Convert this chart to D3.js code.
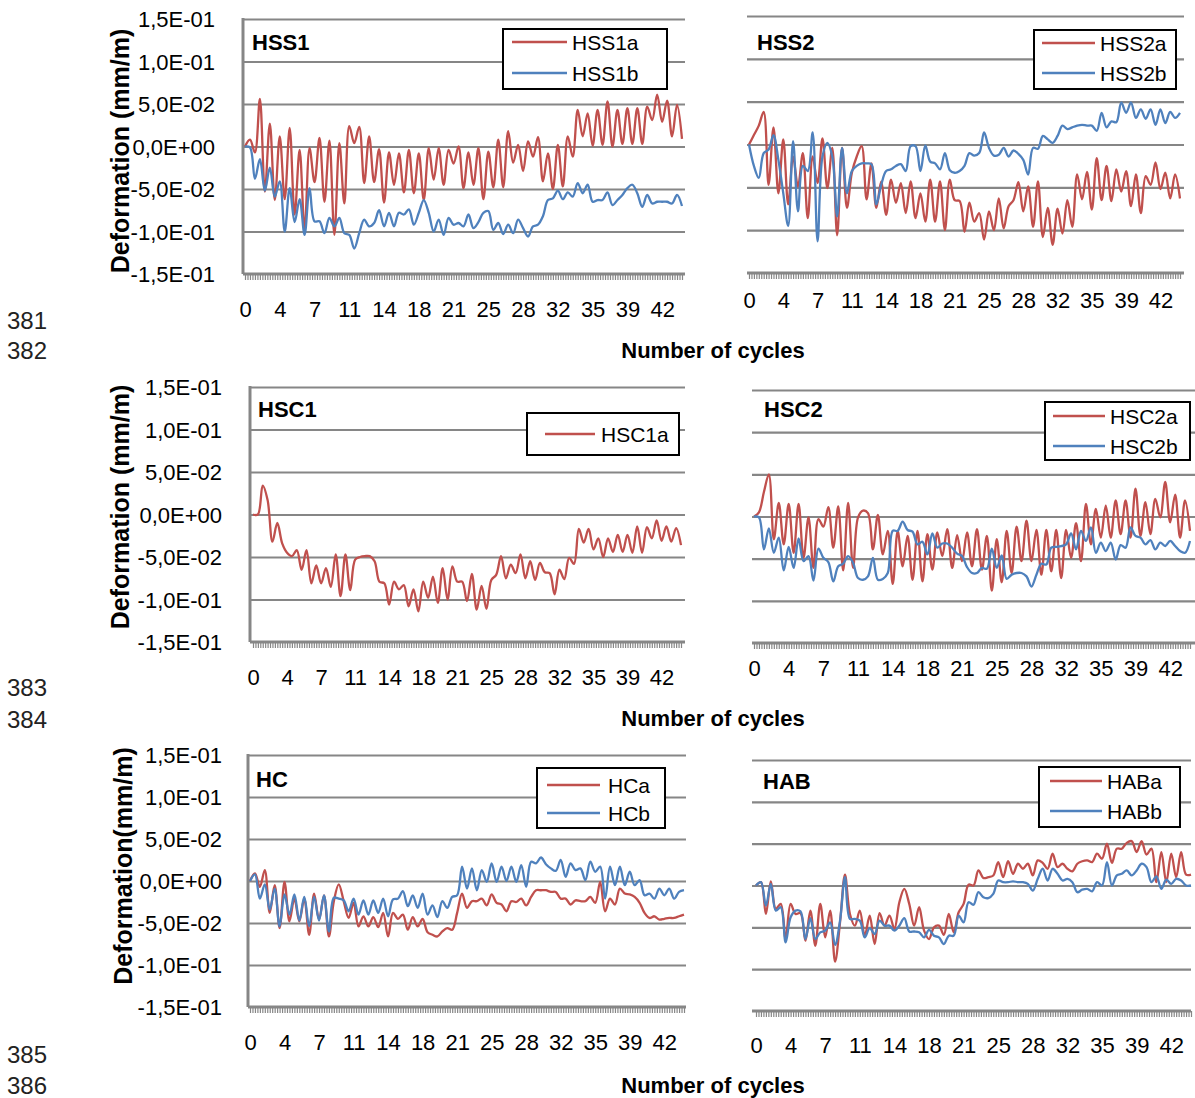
<!DOCTYPE html>
<html><head><meta charset="utf-8">
<script src="https://cdn.jsdelivr.net/npm/d3@7"></script>
<style>body{margin:0;background:#fff}svg{display:block}</style>
</head><body>
<svg id="c" width="1195" height="1098"></svg>
<script>
// ---------- data ----------
const cycleStep = 0.5;              // cycles between consecutive readings
const yTickValues = [-0.15,-0.1,-0.05,0,0.05,0.1,0.15];
const yTickLabels = ["-1,5E-01","-1,0E-01","-5,0E-02","0,0E+00","5,0E-02","1,0E-01","1,5E-01"];
const xTickValues = [0,3.5,7,10.5,14,17.5,21,24.5,28,31.5,35,38.5,42];
const xTickLabels = ["0","4","7","11","14","18","21","25","28","32","35","39","42"];
const lineNumbers = ["381","382","383","384","385","386"];
const axisTitleX = "Number of cycles";

const HSS1a = [0,0.008,-0.007,0.056,-0.053,0.027,-0.063,0.012,-0.062,0.022,
 -0.080,-0.004,-0.098,-0.002,-0.042,0.010,-0.065,0.007,-0.104,0.004,
 -0.067,0.024,0.004,0.023,-0.043,0.012,-0.042,-0.003,-0.066,-0.007,
 -0.045,-0.008,-0.054,-0.004,-0.055,-0.008,-0.063,-0.002,-0.039,-0.002,
 -0.045,-0.004,-0.020,0.000,-0.049,-0.007,-0.045,-0.002,-0.062,-0.006,
 -0.048,0.008,-0.048,0.018,-0.019,0.002,-0.029,0.006,-0.012,0.011,
 -0.041,-0.008,-0.050,0.002,-0.047,0.012,-0.012,0.043,0.012,0.039,
 0.001,0.043,0.002,0.053,0.000,0.043,0.003,0.045,0.003,0.045,
 0.003,0.047,0.031,0.061,0.029,0.054,0.012,0.049,0.009];
const HSS1b = [0,-0.001,-0.038,-0.015,-0.052,-0.025,-0.059,-0.041,-0.100,-0.049,
 -0.089,-0.062,-0.104,-0.049,-0.088,-0.088,-0.102,-0.084,-0.094,-0.084,
 -0.102,-0.104,-0.120,-0.102,-0.086,-0.094,-0.090,-0.075,-0.094,-0.078,
 -0.094,-0.078,-0.080,-0.074,-0.092,-0.078,-0.063,-0.078,-0.100,-0.086,
 -0.104,-0.084,-0.092,-0.090,-0.094,-0.080,-0.096,-0.089,-0.078,-0.076,
 -0.098,-0.090,-0.103,-0.092,-0.102,-0.086,-0.096,-0.106,-0.094,-0.092,
 -0.082,-0.063,-0.061,-0.052,-0.062,-0.054,-0.059,-0.043,-0.055,-0.045,
 -0.065,-0.063,-0.063,-0.054,-0.069,-0.063,-0.057,-0.049,-0.045,-0.055,
 -0.071,-0.057,-0.067,-0.065,-0.065,-0.065,-0.067,-0.057,-0.070];
const HSS2a = [0,0.011,0.022,0.038,-0.047,0.020,-0.057,0.006,-0.070,-0.014,
 -0.049,-0.010,-0.086,-0.014,-0.045,0.007,-0.051,-0.004,-0.106,-0.004,
 -0.074,-0.033,-0.014,-0.002,-0.064,-0.022,-0.074,-0.043,-0.082,-0.041,
 -0.068,-0.045,-0.080,-0.043,-0.086,-0.057,-0.090,-0.041,-0.090,-0.043,
 -0.100,-0.041,-0.065,-0.066,-0.102,-0.068,-0.090,-0.080,-0.111,-0.078,
 -0.100,-0.063,-0.098,-0.072,-0.065,-0.044,-0.078,-0.049,-0.096,-0.043,
 -0.108,-0.074,-0.117,-0.075,-0.104,-0.065,-0.096,-0.035,-0.064,-0.032,
 -0.076,-0.016,-0.065,-0.025,-0.066,-0.029,-0.055,-0.031,-0.072,-0.035,
 -0.080,-0.037,-0.047,-0.021,-0.052,-0.033,-0.063,-0.035,-0.063];
const HSS2b = [0,-0.025,-0.039,-0.010,-0.006,0.011,-0.018,-0.057,-0.095,0.004,
 -0.078,-0.025,-0.031,0.014,-0.113,-0.014,0.002,-0.014,-0.084,-0.004,
 -0.057,-0.031,-0.025,-0.022,-0.022,-0.023,-0.070,-0.047,-0.031,-0.029,
 -0.025,-0.023,-0.031,-0.002,-0.002,-0.031,-0.001,-0.020,-0.022,-0.029,
 -0.010,-0.030,-0.033,-0.031,-0.025,-0.010,-0.013,-0.010,0.014,-0.004,
 -0.013,-0.012,-0.004,-0.014,-0.007,-0.011,-0.018,-0.035,-0.004,-0.005,
 0.010,0.006,0.002,0.010,0.022,0.018,0.020,0.022,0.023,0.022,
 0.022,0.016,0.037,0.020,0.027,0.026,0.049,0.037,0.049,0.031,
 0.041,0.030,0.041,0.023,0.041,0.025,0.038,0.031,0.037];
const HSC1a = [0,0,0.034,0.017,-0.032,-0.010,-0.034,-0.045,-0.049,-0.042,
 -0.065,-0.042,-0.081,-0.060,-0.081,-0.063,-0.085,-0.047,-0.096,-0.047,
 -0.089,-0.053,-0.050,-0.049,-0.049,-0.055,-0.079,-0.081,-0.106,-0.079,
 -0.088,-0.083,-0.108,-0.088,-0.114,-0.079,-0.098,-0.073,-0.104,-0.063,
 -0.100,-0.061,-0.079,-0.079,-0.102,-0.070,-0.112,-0.084,-0.111,-0.077,
 -0.071,-0.049,-0.075,-0.059,-0.069,-0.047,-0.075,-0.055,-0.077,-0.057,
 -0.068,-0.069,-0.094,-0.065,-0.076,-0.051,-0.058,-0.017,-0.033,-0.017,
 -0.041,-0.028,-0.050,-0.028,-0.044,-0.024,-0.044,-0.024,-0.045,-0.014,
 -0.045,-0.015,-0.028,-0.007,-0.031,-0.014,-0.032,-0.016,-0.036];
const HSC2a = [0,0.005,0.029,0.050,-0.027,0.016,-0.033,0.015,-0.043,0.015,
 -0.049,-0.001,-0.061,-0.003,-0.012,0.011,-0.037,0.012,-0.064,0.016,
 -0.061,-0.001,0.007,0.004,-0.039,0.002,-0.045,-0.017,-0.080,-0.017,
 -0.059,-0.023,-0.075,-0.017,-0.077,-0.021,-0.063,-0.019,-0.047,-0.015,
 -0.061,-0.022,-0.053,-0.019,-0.059,-0.015,-0.063,-0.023,-0.088,-0.027,
 -0.078,-0.017,-0.067,-0.012,-0.053,-0.005,-0.053,-0.016,-0.069,-0.016,
 -0.065,-0.016,-0.073,-0.016,-0.049,-0.008,-0.053,0.015,-0.033,0.009,
 -0.025,0.013,-0.025,0.019,-0.021,0.019,-0.025,0.033,-0.023,0.017,
 -0.021,0.021,-0.001,0.041,-0.007,0.026,-0.025,0.019,-0.017];
const HSC2b = [0,-0.001,-0.039,-0.014,-0.043,-0.025,-0.064,-0.036,-0.061,-0.026,
 -0.053,-0.047,-0.076,-0.038,-0.049,-0.054,-0.077,-0.059,-0.056,-0.047,
 -0.055,-0.073,-0.075,-0.071,-0.049,-0.075,-0.074,-0.067,-0.017,-0.017,
 -0.006,-0.016,-0.018,-0.033,-0.030,-0.045,-0.020,-0.037,-0.032,-0.032,
 -0.037,-0.044,-0.047,-0.060,-0.067,-0.067,-0.061,-0.062,-0.038,-0.061,
 -0.046,-0.074,-0.069,-0.067,-0.067,-0.071,-0.083,-0.069,-0.056,-0.057,
 -0.037,-0.036,-0.035,-0.033,-0.020,-0.039,-0.017,-0.029,-0.013,-0.043,
 -0.031,-0.041,-0.031,-0.051,-0.034,-0.037,-0.013,-0.023,-0.025,-0.033,
 -0.028,-0.039,-0.031,-0.035,-0.029,-0.035,-0.041,-0.043,-0.029];
const HCa = [0,0.009,-0.007,0.013,-0.038,-0.005,-0.056,-0.001,-0.048,-0.021,
 -0.048,-0.021,-0.064,-0.015,-0.046,-0.017,-0.066,-0.024,-0.004,-0.024,
 -0.044,-0.026,-0.054,-0.042,-0.054,-0.043,-0.055,-0.038,-0.066,-0.038,
 -0.045,-0.040,-0.058,-0.043,-0.054,-0.045,-0.061,-0.064,-0.066,-0.060,
 -0.056,-0.058,-0.038,-0.015,-0.032,-0.024,-0.024,-0.021,-0.029,-0.016,
 -0.026,-0.028,-0.036,-0.024,-0.025,-0.021,-0.029,-0.019,-0.011,-0.011,
 -0.011,-0.013,-0.013,-0.021,-0.021,-0.028,-0.023,-0.024,-0.024,-0.019,
 -0.026,-0.001,-0.036,-0.021,-0.028,-0.009,-0.015,-0.016,-0.019,-0.026,
 -0.038,-0.044,-0.042,-0.046,-0.045,-0.044,-0.044,-0.042,-0.040];
const HCb = [0,0.008,-0.021,-0.004,-0.034,-0.009,-0.054,-0.016,-0.040,-0.016,
 -0.047,-0.019,-0.054,-0.019,-0.047,-0.017,-0.060,-0.020,-0.021,-0.023,
 -0.036,-0.021,-0.040,-0.023,-0.040,-0.023,-0.038,-0.021,-0.042,-0.022,
 -0.021,-0.012,-0.030,-0.017,-0.032,-0.015,-0.040,-0.029,-0.043,-0.024,
 -0.032,-0.019,-0.017,0.017,-0.009,0.015,-0.011,0.013,-0.001,0.021,
 -0.001,0.017,0,0.017,-0.001,0.019,-0.007,0.023,0.021,0.028,
 0.020,0.015,0.012,0.025,0.005,0.021,0.013,0.015,0.001,0.023,
 0.011,0.017,-0.021,0.017,-0.005,0.017,-0.005,0.011,-0.005,0.001,
 -0.017,-0.015,-0.021,-0.009,-0.017,-0.009,-0.021,-0.013,-0.011];
const HABa = [0,0.004,-0.034,0.005,-0.028,-0.022,-0.064,-0.022,-0.034,-0.033,
 -0.066,-0.030,-0.072,-0.022,-0.062,-0.030,-0.091,-0.044,0.013,-0.034,
 -0.048,-0.030,-0.060,-0.036,-0.070,-0.033,-0.048,-0.036,-0.052,-0.020,
 -0.004,-0.022,-0.048,-0.026,-0.054,-0.064,-0.050,-0.048,-0.059,-0.034,
 -0.056,-0.032,-0.022,0.001,0,0.018,0.009,0.010,0.012,0.028,
 0.010,0.029,0.014,0.026,0.020,0.026,0.012,0.030,0.027,0.020,
 0.038,0.022,0.026,0.020,0.017,0.026,0.029,0.030,0.028,0.038,
 0.032,0.050,0.027,0.044,0.044,0.051,0.053,0.040,0.053,0.037,
 0.044,0.004,0.040,0.004,0.038,0.010,0.040,0.013,0.013];
const HABb = [0,0.004,-0.024,0.002,-0.030,-0.026,-0.068,-0.038,-0.030,-0.031,
 -0.064,-0.039,-0.064,-0.056,-0.054,-0.044,-0.071,-0.042,0.010,-0.040,
 -0.040,-0.042,-0.062,-0.051,-0.058,-0.042,-0.048,-0.048,-0.054,-0.048,
 -0.039,-0.055,-0.055,-0.056,-0.062,-0.053,-0.060,-0.062,-0.070,-0.060,
 -0.060,-0.036,-0.044,-0.020,-0.023,-0.008,-0.014,-0.015,-0.010,0.006,
 0.004,0.004,0.005,0.004,0.004,0.002,-0.006,0.008,0.020,0.006,
 0.020,0.014,0.006,0.008,0.004,-0.008,-0.005,-0.004,-0.007,0.004,
 0,0.028,0,0.012,0.014,0.018,0.012,0.018,0.026,0.022,
 0.004,0.011,-0.004,0.007,0.002,0.008,0.006,0,0];

// ---------- style / layout ----------
const RED = "#C0504D", BLUE = "#4F81BD", GRID = "#868686";
const FONT = "'Liberation Sans', Arial, sans-serif";

const panels = [
 {title:"HSS1", series:[["HSS1a",HSS1a,RED],["HSS1b",HSS1b,BLUE]],
  x0:245,x1:682,gl:243,gr:685,yt:19,yb:274,yAxis:true,ylabX:215,ytitle:"Deformation (mm/m)",ytX:129,ytY:151,
  xlabY:309,tX:252,tY:50,leg:{x:503,y:29,w:164,h:60,lx:512,ll:55,tx:572,rows:[42,73]}},
 {title:"HSS2", series:[["HSS2a",HSS2a,RED],["HSS2b",HSS2b,BLUE]],
  x0:749,x1:1180,gl:747,gr:1184,yt:16,yb:273,yAxis:false,
  xlabY:300,tX:757,tY:50,leg:{x:1034,y:30,w:142,h:59,lx:1042,ll:53,tx:1100,rows:[43,73]}},
 {title:"HSC1", series:[["HSC1a",HSC1a,RED]],
  x0:253,x1:681,gl:250,gr:685,yt:387,yb:642,yAxis:true,ylabX:222,ytitle:"Deformation (mm/m)",ytX:129,ytY:507,
  xlabY:677,tX:258,tY:417,leg:{x:527,y:413,w:152,h:42,lx:545,ll:50,tx:601,rows:[434]}},
 {title:"HSC2", series:[["HSC2a",HSC2a,RED],["HSC2b",HSC2b,BLUE]],
  x0:754,x1:1190,gl:752,gr:1195,yt:390,yb:643,yAxis:false,
  xlabY:668,tX:764,tY:417,leg:{x:1045,y:402,w:145,h:58,lx:1053,ll:52,tx:1110,rows:[416,446]}},
 {title:"HC", series:[["HCa",HCa,RED],["HCb",HCb,BLUE]],
  x0:250,x1:684,gl:248,gr:686,yt:755,yb:1007,yAxis:true,ylabX:222,ytitle:"Deformation(mm/m)",ytX:132,ytY:866,
  xlabY:1042,tX:256,tY:787,leg:{x:537,y:768,w:128,h:60,lx:547,ll:53,tx:608,rows:[785,813]}},
 {title:"HAB", series:[["HABa",HABa,RED],["HABb",HABb,BLUE]],
  x0:756,x1:1191,gl:752,gr:1191,yt:760,yb:1011,yAxis:false,
  xlabY:1045,tX:763,tY:789,leg:{x:1039,y:767,w:141,h:60,lx:1050,ll:52,tx:1107,rows:[781,811]}}
];
const rowNumbers = [[320,350],[687,719],[1054,1085]];
const rowAxisTitleY = [350,718,1085];

// ---------- drawing ----------
const svg = d3.select("#c");
svg.append("rect").attr("width",1195).attr("height",1098).attr("fill","#fff");
const minorTicks = d3.range(0, 44.001, 0.25);

panels.forEach(p => {
  const x = d3.scaleLinear().domain([0,44]).range([p.x0,p.x1]);
  const y = d3.scaleLinear().domain([-0.15,0.15]).range([p.yb,p.yt]);
  const g = svg.append("g");

  // gridlines
  const grid = g.append("g").attr("transform",`translate(${p.gl},0)`)
    .call(d3.axisLeft(y).tickValues(yTickValues.slice(1)).tickSize(-(p.gr-p.gl)).tickFormat(""));
  grid.select(".domain").remove();
  grid.selectAll(".tick line").attr("stroke",GRID).attr("stroke-width",2.2);

  // y labels
  if (p.yAxis) {
    const ya = g.append("g").attr("transform",`translate(${p.ylabX},0)`)
      .call(d3.axisLeft(y).tickValues(yTickValues).tickSize(0).tickPadding(0)
        .tickFormat((d,i)=>yTickLabels[i]));
    ya.select(".domain").remove();
    ya.selectAll("text").attr("font-family",FONT).attr("font-size",22).attr("fill","#000").attr("dy","0.36em");
    g.append("line").attr("x1",p.gl).attr("x2",p.gl).attr("y1",p.yt-1).attr("y2",p.yb)
      .attr("stroke",GRID).attr("stroke-width",3);
    g.append("text").attr("transform",`translate(${p.ytX},${p.ytY}) rotate(-90)`)
      .attr("text-anchor","middle").attr("font-family",FONT).attr("font-weight","bold")
      .attr("font-size",25).text(p.ytitle);
  }

  // bottom axis with comb ticks
  const xa = g.append("g").attr("transform",`translate(0,${p.yb})`)
    .call(d3.axisBottom(x).tickValues(minorTicks).tickSize(6).tickFormat("").tickSizeOuter(0));
  xa.select(".domain").remove();
  xa.selectAll(".tick line").attr("stroke",GRID).attr("stroke-width",1.2);
  g.append("line").attr("x1",p.gl).attr("x2",p.gr).attr("y1",p.yb).attr("y2",p.yb)
    .attr("stroke",GRID).attr("stroke-width",3);

  // x labels
  const xl = g.append("g").attr("transform",`translate(0,${p.xlabY})`)
    .call(d3.axisBottom(x).tickValues(xTickValues).tickSize(0).tickPadding(0)
      .tickFormat((d,i)=>xTickLabels[i]));
  xl.select(".domain").remove();
  xl.selectAll("text").attr("font-family",FONT).attr("font-size",22).attr("fill","#000").attr("dy","0.36em");

  // series
  const line = d3.line().x((d,i)=>x(i*cycleStep)).y(d=>y(d)).curve(d3.curveCatmullRom.alpha(0.5));
  p.series.forEach(s => {
    g.append("path").datum(s[1]).attr("d",line).attr("fill","none")
      .attr("stroke",s[2]).attr("stroke-width",2.3).attr("stroke-linejoin","round");
  });

  // panel title
  g.append("text").attr("x",p.tX).attr("y",p.tY).attr("font-family",FONT)
    .attr("font-weight","bold").attr("font-size",22).text(p.title);

  // legend
  const L = p.leg;
  g.append("rect").attr("x",L.x).attr("y",L.y).attr("width",L.w).attr("height",L.h)
    .attr("fill","#fff").attr("stroke","#000").attr("stroke-width",2);
  p.series.forEach((s,i) => {
    const ry = L.rows[i];
    g.append("line").attr("x1",L.lx).attr("x2",L.lx+L.ll).attr("y1",ry).attr("y2",ry)
      .attr("stroke",s[2]).attr("stroke-width",2.3);
    g.append("text").attr("x",L.tx).attr("y",ry).attr("dy","0.36em").attr("font-family",FONT)
      .attr("font-size",21).text(s[0]);
  });
});

// x-axis titles and line numbers
rowAxisTitleY.forEach(cy => {
  svg.append("text").attr("x",713).attr("y",cy).attr("dy","0.36em").attr("text-anchor","middle")
    .attr("font-family",FONT).attr("font-weight","bold").attr("font-size",22).text(axisTitleX);
});
rowNumbers.flat().forEach((cy,i) => {
  svg.append("text").attr("x",7).attr("y",cy).attr("dy","0.36em")
    .attr("font-family",FONT).attr("font-size",24).attr("fill","#222").text(lineNumbers[i]);
});
</script>
</body></html>
